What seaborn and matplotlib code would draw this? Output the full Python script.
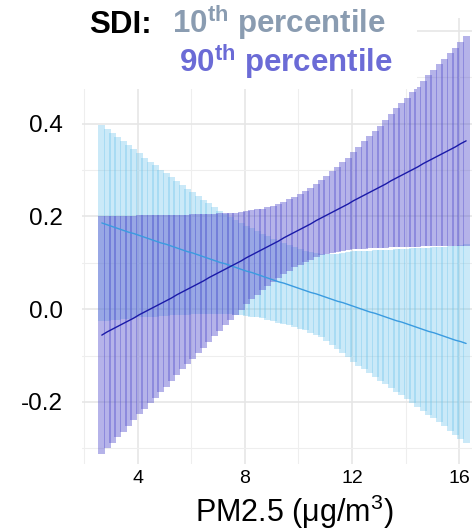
import numpy as np
import matplotlib
matplotlib.use("Agg")
import matplotlib.pyplot as plt
import seaborn as sns
from matplotlib.patches import Rectangle
from matplotlib.ticker import MultipleLocator, FuncFormatter

# PM2.5 grid where the marginal effect was evaluated
pm25 = [2.66, 2.86, 3.06, 3.26, 3.46, 3.66, 3.86, 4.06, 4.26, 4.46,
        4.66, 4.86, 5.06, 5.26, 5.46, 5.66, 5.86, 6.06, 6.26, 6.46,
        6.66, 6.86, 7.06, 7.26, 7.46, 7.66, 7.86, 8.06, 8.26, 8.46,
        8.66, 8.86, 9.06, 9.26, 9.46, 9.66, 9.86, 10.06, 10.26, 10.46,
        10.66, 10.86, 11.06, 11.26, 11.46, 11.66, 11.86, 12.06, 12.26, 12.46,
        12.66, 12.86, 13.06, 13.26, 13.46, 13.66, 13.86, 14.06, 14.26, 14.46,
        14.66, 14.86, 15.06, 15.26, 15.46, 15.66, 15.86, 16.06, 16.26]

# SDI 10th percentile: fitted effect and CI half-width
fit_p10 = [0.186, 0.182, 0.178, 0.174, 0.170, 0.166, 0.163, 0.159, 0.155, 0.151,
           0.147, 0.143, 0.140, 0.136, 0.132, 0.128, 0.124, 0.121, 0.117, 0.113,
           0.109, 0.105, 0.101, 0.098, 0.094, 0.090, 0.086, 0.082, 0.079, 0.075,
           0.071, 0.067, 0.063, 0.059, 0.056, 0.052, 0.048, 0.044, 0.040, 0.036,
           0.033, 0.029, 0.025, 0.021, 0.017, 0.014, 0.010, 0.006, 0.002, -0.002,
           -0.006, -0.009, -0.013, -0.017, -0.021, -0.025, -0.028, -0.032, -0.036, -0.040,
           -0.044, -0.048, -0.051, -0.055, -0.059, -0.063, -0.067, -0.070, -0.074]
ci_p10 = [0.212, 0.207, 0.202, 0.197, 0.192, 0.187, 0.182, 0.177, 0.172, 0.167,
          0.163, 0.158, 0.154, 0.149, 0.145, 0.140, 0.136, 0.132, 0.127, 0.123,
          0.119, 0.115, 0.111, 0.108, 0.105, 0.102, 0.099, 0.097, 0.095, 0.093,
          0.091, 0.090, 0.089, 0.088, 0.087, 0.086, 0.086, 0.086, 0.086, 0.087,
          0.088, 0.090, 0.093, 0.098, 0.103, 0.108, 0.114, 0.119, 0.124, 0.128,
          0.132, 0.137, 0.141, 0.145, 0.149, 0.154, 0.158, 0.162, 0.167, 0.171,
          0.175, 0.180, 0.184, 0.189, 0.194, 0.199, 0.204, 0.209, 0.214]

# SDI 90th percentile: fitted effect and CI half-width
fit_p90 = [-0.056, -0.049, -0.043, -0.037, -0.031, -0.025, -0.019, -0.012, -0.006, 0.000,
           0.006, 0.012, 0.018, 0.024, 0.031, 0.037, 0.043, 0.049, 0.055, 0.061,
           0.068, 0.074, 0.080, 0.086, 0.092, 0.098, 0.104, 0.111, 0.117, 0.123,
           0.129, 0.135, 0.141, 0.147, 0.154, 0.160, 0.166, 0.172, 0.178, 0.184,
           0.191, 0.197, 0.203, 0.209, 0.215, 0.221, 0.227, 0.234, 0.240, 0.246,
           0.252, 0.258, 0.264, 0.270, 0.277, 0.283, 0.289, 0.295, 0.301, 0.307,
           0.314, 0.320, 0.326, 0.332, 0.338, 0.344, 0.350, 0.357, 0.363]
ci_p90 = [0.257, 0.251, 0.245, 0.239, 0.233, 0.227, 0.221, 0.215, 0.209, 0.203,
          0.197, 0.191, 0.185, 0.179, 0.173, 0.167, 0.161, 0.156, 0.150, 0.144,
          0.138, 0.132, 0.127, 0.121, 0.116, 0.110, 0.105, 0.100, 0.096, 0.092,
          0.088, 0.085, 0.082, 0.080, 0.078, 0.077, 0.076, 0.076, 0.076, 0.077,
          0.078, 0.081, 0.084, 0.088, 0.092, 0.096, 0.100, 0.105, 0.110, 0.116,
          0.121, 0.127, 0.132, 0.138, 0.144, 0.150, 0.155, 0.161, 0.167, 0.173,
          0.178, 0.184, 0.190, 0.196, 0.202, 0.208, 0.214, 0.220, 0.226]

sns.set_theme(style="whitegrid")
plt.rcParams['font.family'] = ['Liberation Sans', 'DejaVu Sans']
plt.rcParams['axes.unicode_minus'] = False
plt.rcParams['mathtext.fontset'] = 'custom'
plt.rcParams['mathtext.rm'] = 'Liberation Sans'
plt.rcParams['mathtext.bf'] = 'Liberation Sans:bold'

W, H = 472, 530
fig = plt.figure(figsize=(W / 100, H / 100), dpi=100)
ax = fig.add_axes([82 / W, 66 / H, 1 - 82 / W, 446 / H])

x = np.array(pm25)
# confidence bands drawn as a run of semi-transparent bars
for fit, ci, col, a in [(fit_p10, ci_p10, "#6cc4ec", 0.36),
                        (fit_p90, ci_p90, "#5e5acf", 0.46)]:
    fit = np.array(fit)
    ci = np.array(ci)
    ax.bar(x, 2 * ci, bottom=fit - ci, width=0.26, color=col, alpha=a,
           linewidth=0, zorder=2)

sns.lineplot(x=x, y=fit_p10, color="#3a9be0", lw=1.0, ax=ax, zorder=3)
sns.lineplot(x=x, y=fit_p90, color="#1a1aa8", lw=1.0, ax=ax, zorder=3)

ax.set_xlim(1.92, 16.48)
ax.set_ylim(-0.334, 0.628)
ax.xaxis.set_major_locator(MultipleLocator(4))
ax.xaxis.set_minor_locator(MultipleLocator(2))
ax.yaxis.set_major_locator(MultipleLocator(0.2))
ax.yaxis.set_minor_locator(MultipleLocator(0.1))
ax.yaxis.set_major_formatter(FuncFormatter(lambda v, p: f"{v:.1f}" if abs(v) > 1e-9 else "0.0"))
ax.grid(which="major", color="#e6e6e6", lw=1.2)
ax.grid(which="minor", color="#eeeeee", lw=0.8)
ax.set_axisbelow(True)
for s in ax.spines.values():
    s.set_visible(False)
ax.tick_params(which="both", length=0)
ax.tick_params(axis="y", labelsize=17.5, pad=13.5, labelcolor="black")
ax.tick_params(axis="x", labelsize=14, pad=4.5, labelcolor="black")
ax.set_xlabel("")
ax.set_ylabel("")

# x axis title
fig.text(294 / W, 1 - 522 / H, r"PM2.5 (μg/m$^{3}$)", ha="center", va="baseline",
         fontsize=22, color="black")

# legend box on top of the panel
fig.add_artist(Rectangle((0, 1 - 89 / H), 417 / W, 89 / H, transform=fig.transFigure,
                         facecolor="white", edgecolor="none", zorder=5))
fig.text(89 / W, 1 - 33 / H, "SDI:", fontsize=22.5, fontweight="bold", color="black",
         va="baseline", zorder=6)
fig.text(172 / W, 1 - 33 / H, r"10$^{\mathbf{th}}$ percentile", fontsize=22.5,
         fontweight="bold", color="#8a9cb1", va="baseline", zorder=6)
fig.text(179 / W, 1 - 72 / H, r"90$^{\mathbf{th}}$ percentile", fontsize=22.5,
         fontweight="bold", color="#6b6bd6", va="baseline", zorder=6)

fig.savefig("out.png", dpi=100)
